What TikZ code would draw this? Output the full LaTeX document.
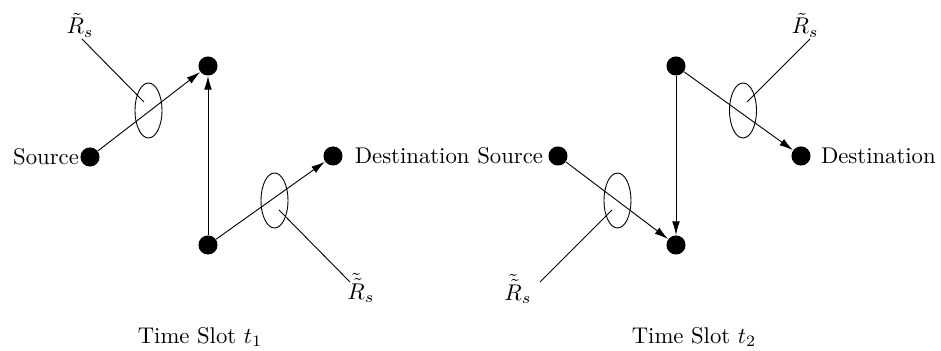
\documentclass[tikz,border=0pt]{standalone}
\usepackage{tikz}
\usetikzlibrary{positioning, arrows.meta, shapes.geometric}

\begin{document}
\begin{tikzpicture}[x=0.44pt, y=-0.44pt,
    dot/.style={circle, fill=black, inner sep=0pt, minimum size=8.4pt},
    link/.style={-{Latex[length=6pt,width=3.4pt]}},
    ring/.style={draw, ellipse, inner sep=0pt, minimum width=11.9pt, minimum height=24.2pt},
    lbl/.style={inner sep=0pt}]
  \useasboundingbox (0,0) rectangle (941,351);

  % time slot t1
  \node[dot] (srcA) at (90,157) {};
  \node[dot] (upA)  at (208,66) {};
  \node[dot] (lowA) at (208,245) {};
  \node[dot] (dstA) at (333,156) {};
  \node[lbl, left=0.3pt of srcA] {Source};
  \node[lbl, right=5pt of dstA] {Destination};
  \draw[link] (srcA) -- (upA);
  \draw[link] (lowA) -- (upA);
  \draw[link] (lowA) -- (dstA);
  \node[ring] (ringA1) at (148.5,110.5) {};
  \node[ring] (ringA2) at (274.5,200.5) {};
  \coordinate (inA1) at (144,102);
  \coordinate (inA2) at (279,210);
  \node[lbl] (relA1) at (80,25) {$\tilde{R}_s$};
  \node[lbl] (relA2) at (361,288) {$\tilde{\tilde{R}}_s$};
  \coordinate (tipA1) at (82,39);
  \coordinate (tipA2) at (350,282);
  \draw (inA1) -- (tipA1);
  \draw (inA2) -- (tipA2);
  \node (slotA) at (200,337) {Time Slot $t_1$};

  % time slot t2
  \node[dot] (srcB) at (558,156) {};
  \node[dot] (upB)  at (676,66) {};
  \node[dot] (lowB) at (676,245) {};
  \node[dot] (dstB) at (801,156) {};
  \node[lbl, left=2pt of srcB] {Source};
  \node[lbl, right=4.2pt of dstB] {Destination};
  \draw[link] (upB) -- (dstB);
  \draw[link] (upB) -- (lowB);
  \draw[link] (srcB) -- (lowB);
  \node[ring] (ringB1) at (743,110.5) {};
  \node[ring] (ringB2) at (617.5,200.5) {};
  \coordinate (inB1) at (747,102);
  \coordinate (inB2) at (612,210);
  \node[lbl] (relB1) at (805,25) {$\tilde{R}_s$};
  \node[lbl] (relB2) at (518,289) {$\tilde{\tilde{R}}_s$};
  \coordinate (tipB1) at (810,39);
  \coordinate (tipB2) at (540,282);
  \draw (inB1) -- (tipB1);
  \draw (inB2) -- (tipB2);
  \node (slotB) at (694,337) {Time Slot $t_2$};
\end{tikzpicture}
\end{document}
